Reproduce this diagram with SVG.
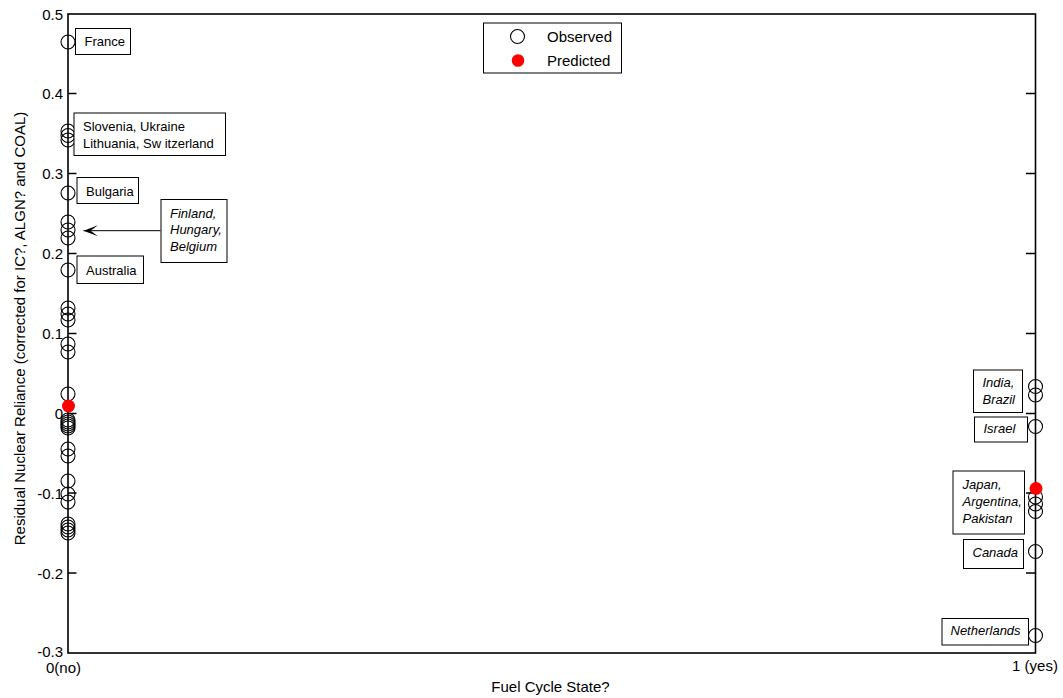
<svg xmlns="http://www.w3.org/2000/svg" width="1063" height="698" viewBox="0 0 1063 698">
<defs>
<style>
text{font-family:"Liberation Sans",Arial,sans-serif;fill:#000}
.ax{font-size:15px}
.lb{font-size:13px}
.it{font-style:italic}
.frame{fill:none;stroke:#000;stroke-width:1.6}
.tick{stroke:#000;stroke-width:1.3}
.obs{fill:none;stroke:#000;stroke-width:1.1}
.pred{fill:#ff0000;stroke:none}
.box{fill:#fff;stroke:#000;stroke-width:1}
.conn{stroke:#000;stroke-width:1;fill:none}
</style>
<marker id="ah" markerUnits="userSpaceOnUse" markerWidth="16" markerHeight="12" refX="14.5" refY="6" orient="auto" viewBox="0 0 16 12">
<path d="M14.5,6 L0,0.5 L7.5,6 L0,11.5 Z" fill="#000"/>
</marker>
</defs>
<rect width="1063" height="698" fill="#fff"/>

<g id="axes">
<rect class="frame" x="68" y="14" width="967.5" height="639"/>
<path class="tick" d="M68,93.5h8.5M68,173.5h8.5M68,253.5h8.5M68,333.5h8.5M68,413.5h8.5M68,493h8.5M68,573h8.5"/>
<path class="tick" d="M1035.5,93.5h-9.5M1035.5,173.5h-9.5M1035.5,253.5h-9.5M1035.5,333.5h-9.5M1035.5,413.5h-9.5M1035.5,493h-9.5M1035.5,573h-9.5"/>
<g class="ax" text-anchor="end">
<text x="63" y="19.5">0.5</text>
<text x="63" y="99">0.4</text>
<text x="63" y="179">0.3</text>
<text x="63" y="259">0.2</text>
<text x="63" y="339">0.1</text>
<text x="63" y="419">0</text>
<text x="63" y="498.5">-0.1</text>
<text x="63" y="578.5">-0.2</text>
<text x="63" y="657">-0.3</text>
</g>
<text class="ax" x="63.5" y="672.5" text-anchor="middle">0(no)</text>
<text class="ax" x="1035" y="671" text-anchor="middle">1 (yes)</text>
<text class="ax" x="550.5" y="691.5" text-anchor="middle">Fuel Cycle State?</text>
<text class="ax" transform="translate(24.5,328.5) rotate(-90)" text-anchor="middle">Residual Nuclear Reliance (corrected for IC?, ALGN? and COAL)</text>
</g>

<g id="observed-left">
<circle class="obs" cx="68" cy="42" r="7"/>
<circle class="obs" cx="68" cy="131" r="7"/>
<circle class="obs" cx="68" cy="135.5" r="7"/>
<circle class="obs" cx="68" cy="140" r="7"/>
<circle class="obs" cx="68" cy="193" r="7"/>
<circle class="obs" cx="68" cy="222" r="7"/>
<circle class="obs" cx="68" cy="230" r="7"/>
<circle class="obs" cx="68" cy="238" r="7"/>
<circle class="obs" cx="68" cy="270" r="7"/>
<circle class="obs" cx="68" cy="308" r="7"/>
<circle class="obs" cx="68" cy="314" r="7"/>
<circle class="obs" cx="68" cy="320" r="7"/>
<circle class="obs" cx="68" cy="344" r="7"/>
<circle class="obs" cx="68" cy="352" r="7"/>
<circle class="obs" cx="68" cy="394" r="7"/>
<circle class="obs" cx="68" cy="420" r="7"/>
<circle class="obs" cx="68" cy="422" r="7"/>
<circle class="obs" cx="68" cy="424" r="7"/>
<circle class="obs" cx="68" cy="426" r="7"/>
<circle class="obs" cx="68" cy="428" r="7"/>
<circle class="obs" cx="68" cy="449" r="7"/>
<circle class="obs" cx="68" cy="456" r="7"/>
<circle class="obs" cx="68" cy="481" r="7"/>
<circle class="obs" cx="68" cy="494" r="7"/>
<circle class="obs" cx="68" cy="502" r="7"/>
<circle class="obs" cx="68" cy="524" r="7"/>
<circle class="obs" cx="68" cy="527" r="7"/>
<circle class="obs" cx="68" cy="530" r="7"/>
<circle class="obs" cx="68" cy="533" r="7"/>
<circle class="pred" cx="68.5" cy="406" r="6.5"/>
</g>

<g id="observed-right">
<circle class="obs" cx="1035.5" cy="386.5" r="7"/>
<circle class="obs" cx="1035.5" cy="395" r="7"/>
<circle class="obs" cx="1035.5" cy="426.5" r="7"/>
<circle class="obs" cx="1035.5" cy="497" r="7"/>
<circle class="obs" cx="1035.5" cy="504" r="7"/>
<circle class="obs" cx="1035.5" cy="511.5" r="7"/>
<circle class="obs" cx="1035.5" cy="551.5" r="7"/>
<circle class="obs" cx="1035.5" cy="635.5" r="7"/>
<circle class="pred" cx="1036" cy="488.5" r="6.5"/>
</g>

<g id="legend">
<rect class="box" x="483.5" y="23" width="138" height="50"/>
<circle class="obs" cx="517.5" cy="36.5" r="7"/>
<circle class="pred" cx="518" cy="60.5" r="6.3"/>
<text class="ax" x="547" y="42">Observed</text>
<text class="ax" x="547" y="65.5">Predicted</text>
</g>

<g id="label-france">
<rect class="box" x="75.5" y="28.5" width="55" height="26"/>
<text class="lb" x="84.5" y="46">France</text>
</g>
<g id="label-slovenia">
<rect class="box" x="74" y="113" width="151.5" height="42.5"/>
<text class="lb" x="83" y="131">Slovenia, Ukraine</text>
<text class="lb" x="83" y="147.5">Lithuania, Sw itzerland</text>
</g>
<g id="label-bulgaria">
<rect class="box" x="77" y="177.5" width="61.5" height="26"/>
<text class="lb" x="86" y="195.5">Bulgaria</text>
</g>
<g id="label-finland">
<rect class="box" x="161" y="199.5" width="66" height="63"/>
<text class="lb it" x="170" y="217.5">Finland,</text>
<text class="lb it" x="170" y="234.3">Hungary,</text>
<text class="lb it" x="170" y="251">Belgium</text>
</g>
<g id="label-australia">
<rect class="box" x="77" y="256" width="66.5" height="27.5"/>
<text class="lb" x="86" y="274.5">Australia</text>
</g>
<g id="label-india">
<rect class="box" x="973.5" y="370" width="49" height="42.5"/>
<text class="lb it" x="982.5" y="387">India,</text>
<text class="lb it" x="982.5" y="403.5">Brazil</text>
</g>
<g id="label-israel">
<rect class="box" x="974.5" y="417" width="53" height="25"/>
<text class="lb it" x="983.5" y="433">Israel</text>
</g>
<g id="label-japan">
<rect class="box" x="953" y="471" width="71.5" height="63"/>
<text class="lb it" x="962.5" y="488.5">Japan,</text>
<text class="lb it" x="962.5" y="506">Argentina,</text>
<text class="lb it" x="962.5" y="523.3">Pakistan</text>
</g>
<g id="label-canada">
<rect class="box" x="963.5" y="539.5" width="60" height="29"/>
<text class="lb it" x="972.5" y="556.5">Canada</text>
</g>
<g id="label-netherlands">
<rect class="box" x="942" y="618.5" width="86.5" height="26.5"/>
<text class="lb it" x="950.5" y="634.5">Netherlands</text>
</g>

<g id="connectors">
<path class="conn" d="M160.5,230.7 H83.5" marker-end="url(#ah)"/>
</g>
</svg>
